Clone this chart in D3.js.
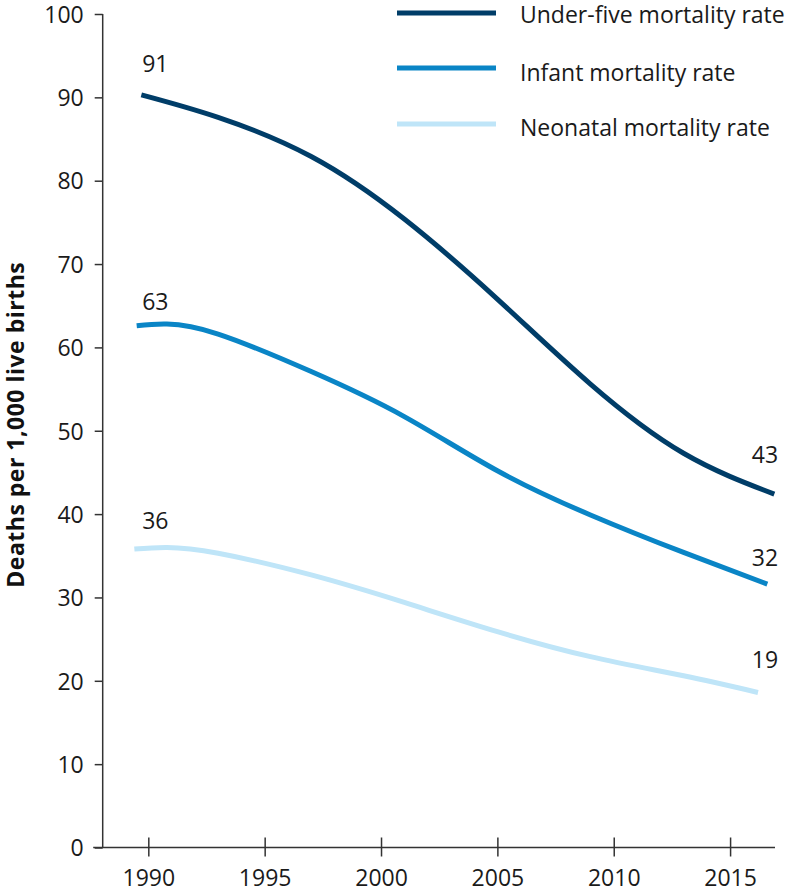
<!DOCTYPE html>
<html>
<head>
<meta charset="utf-8">
<script src="https://cdn.jsdelivr.net/npm/d3@7"></script>
<style>
  html, body { margin: 0; padding: 0; background: #fff; }
  svg { display: block; font-family: "Open Sans", sans-serif; }
</style>
</head>
<body>
<svg id="chart" width="798" height="895"></svg>
<script>
// ---------- DATA ----------
const seriesNames = ["Under-five mortality rate", "Infant mortality rate", "Neonatal mortality rate"];

const underFiveYears  = [1989.7, 1993, 1997, 2001, 2005, 2009, 2013, 2016.9];
const underFiveValues = [90.3,   87.6, 82.9, 75.4, 65.8, 55.6, 47.3, 42.4];

const infantYears  = [1989.5, 1990.8, 1993, 1997, 2001, 2005, 2009, 2013, 2016.6];
const infantValues = [62.6,   62.8,   61.6, 57.1, 51.7, 45.2, 39.9, 35.4, 31.6];

const neonatalYears  = [1989.4, 1990.8, 1993, 1997, 2001, 2005, 2009, 2013, 2016.2];
const neonatalValues = [35.8,   36.0,   35.3, 32.7, 29.4, 25.9, 22.9, 20.6, 18.6];

const startLabels = ["91", "63", "36"];
const endLabels   = ["43", "32", "19"];

const xTickValues = [1990, 1995, 2000, 2005, 2010, 2015];
const yTickValues = [0, 10, 20, 30, 40, 50, 60, 70, 80, 90, 100];
const yAxisTitle = "Deaths per 1,000 live births";

// ---------- STYLE ----------
const colors = ["#003d68", "#0a85c6", "#bfe5f8"];
const startDy = [-23, -16, -20];
const endDy   = [-31, -18, -24];

const svg = d3.select("#chart");

const x = d3.scaleLinear().domain([1988.04, 2016.93]).range([102.7, 775]);
const y = d3.scaleLinear().domain([0, 100]).range([847.5, 14]);

const series = [
  underFiveYears.map((yr, i) => ({ year: yr, value: underFiveValues[i] })),
  infantYears.map((yr, i) => ({ year: yr, value: infantValues[i] })),
  neonatalYears.map((yr, i) => ({ year: yr, value: neonatalValues[i] }))
];

// ---------- AXES ----------
const axisColor = "#333";
const yAxis = svg.append("g")
  .attr("transform", `translate(${x.range()[0]},0)`)
  .call(d3.axisLeft(y).tickValues(yTickValues).tickSize(8).tickPadding(11));
yAxis.select(".domain").remove();
yAxis.selectAll(".tick line").attr("stroke", axisColor).attr("stroke-width", 1.5);
yAxis.selectAll(".tick text")
  .attr("fill", "#1a1a1a")
  .style("font-size", "23px")
  .style("font-family", "'Open Sans', sans-serif")
  .attr("dy", "0.36em");
svg.append("line")
  .attr("x1", x.range()[0]).attr("x2", x.range()[0])
  .attr("y1", y(100)).attr("y2", y(0))
  .attr("stroke", axisColor).attr("stroke-width", 1.5);

const xAxis = svg.append("g")
  .attr("transform", `translate(0,${y(0)})`)
  .call(d3.axisBottom(x).tickValues(xTickValues).tickFormat(d3.format("d")).tickSize(10).tickPadding(12));
xAxis.select(".domain").remove();
xAxis.selectAll(".tick line").attr("y1", -10).attr("y2", 9).attr("stroke", axisColor).attr("stroke-width", 1.5);
xAxis.selectAll(".tick text")
  .attr("fill", "#1a1a1a")
  .style("font-size", "23px")
  .style("font-family", "'Open Sans', sans-serif");
svg.append("line")
  .attr("x1", x.range()[0] - 9.5).attr("x2", x.range()[1])
  .attr("y1", y(0)).attr("y2", y(0))
  .attr("stroke", axisColor).attr("stroke-width", 1.5);

// Y-axis title
svg.append("text")
  .attr("transform", `translate(24,${(y(0) + y(100)) / 2 - 6}) rotate(-90)`)
  .attr("text-anchor", "middle")
  .attr("fill", "#111")
  .style("font-size", "23px")
  .style("letter-spacing", "0.5px")
  .style("font-weight", "bold")
  .text(yAxisTitle);

// ---------- LINES ----------
const line = d3.line()
  .x(d => x(d.year))
  .y(d => y(d.value))
  .curve(d3.curveNatural);

series.forEach((s, i) => {
  svg.append("path")
    .datum(s)
    .attr("fill", "none")
    .attr("stroke", colors[i])
    .attr("stroke-width", 5)
    .attr("d", line);
});

// ---------- VALUE LABELS ----------
series.forEach((s, i) => {
  const first = s[0], last = s[s.length - 1];
  svg.append("text")
    .attr("x", x(1990.3)).attr("y", y(first.value) + startDy[i])
    .attr("text-anchor", "middle")
    .attr("fill", "#1a1a1a")
    .style("font-size", "23px")
    .text(startLabels[i]);
  svg.append("text")
    .attr("x", x(2016.5)).attr("y", y(last.value) + endDy[i])
    .attr("text-anchor", "middle")
    .attr("fill", "#1a1a1a")
    .style("font-size", "23px")
    .text(endLabels[i]);
});

// ---------- LEGEND ----------
const legendLineY = [13, 68, 124];
const legendTextY = [23, 81, 136];
seriesNames.forEach((name, i) => {
  svg.append("line")
    .attr("x1", 397).attr("x2", 496)
    .attr("y1", legendLineY[i]).attr("y2", legendLineY[i])
    .attr("stroke", colors[i]).attr("stroke-width", 5);
  svg.append("text")
    .attr("x", 520).attr("y", legendTextY[i])
    .attr("fill", "#1a1a1a")
    .style("font-size", "23px")
    .text(name);
});
</script>
</body>
</html>
